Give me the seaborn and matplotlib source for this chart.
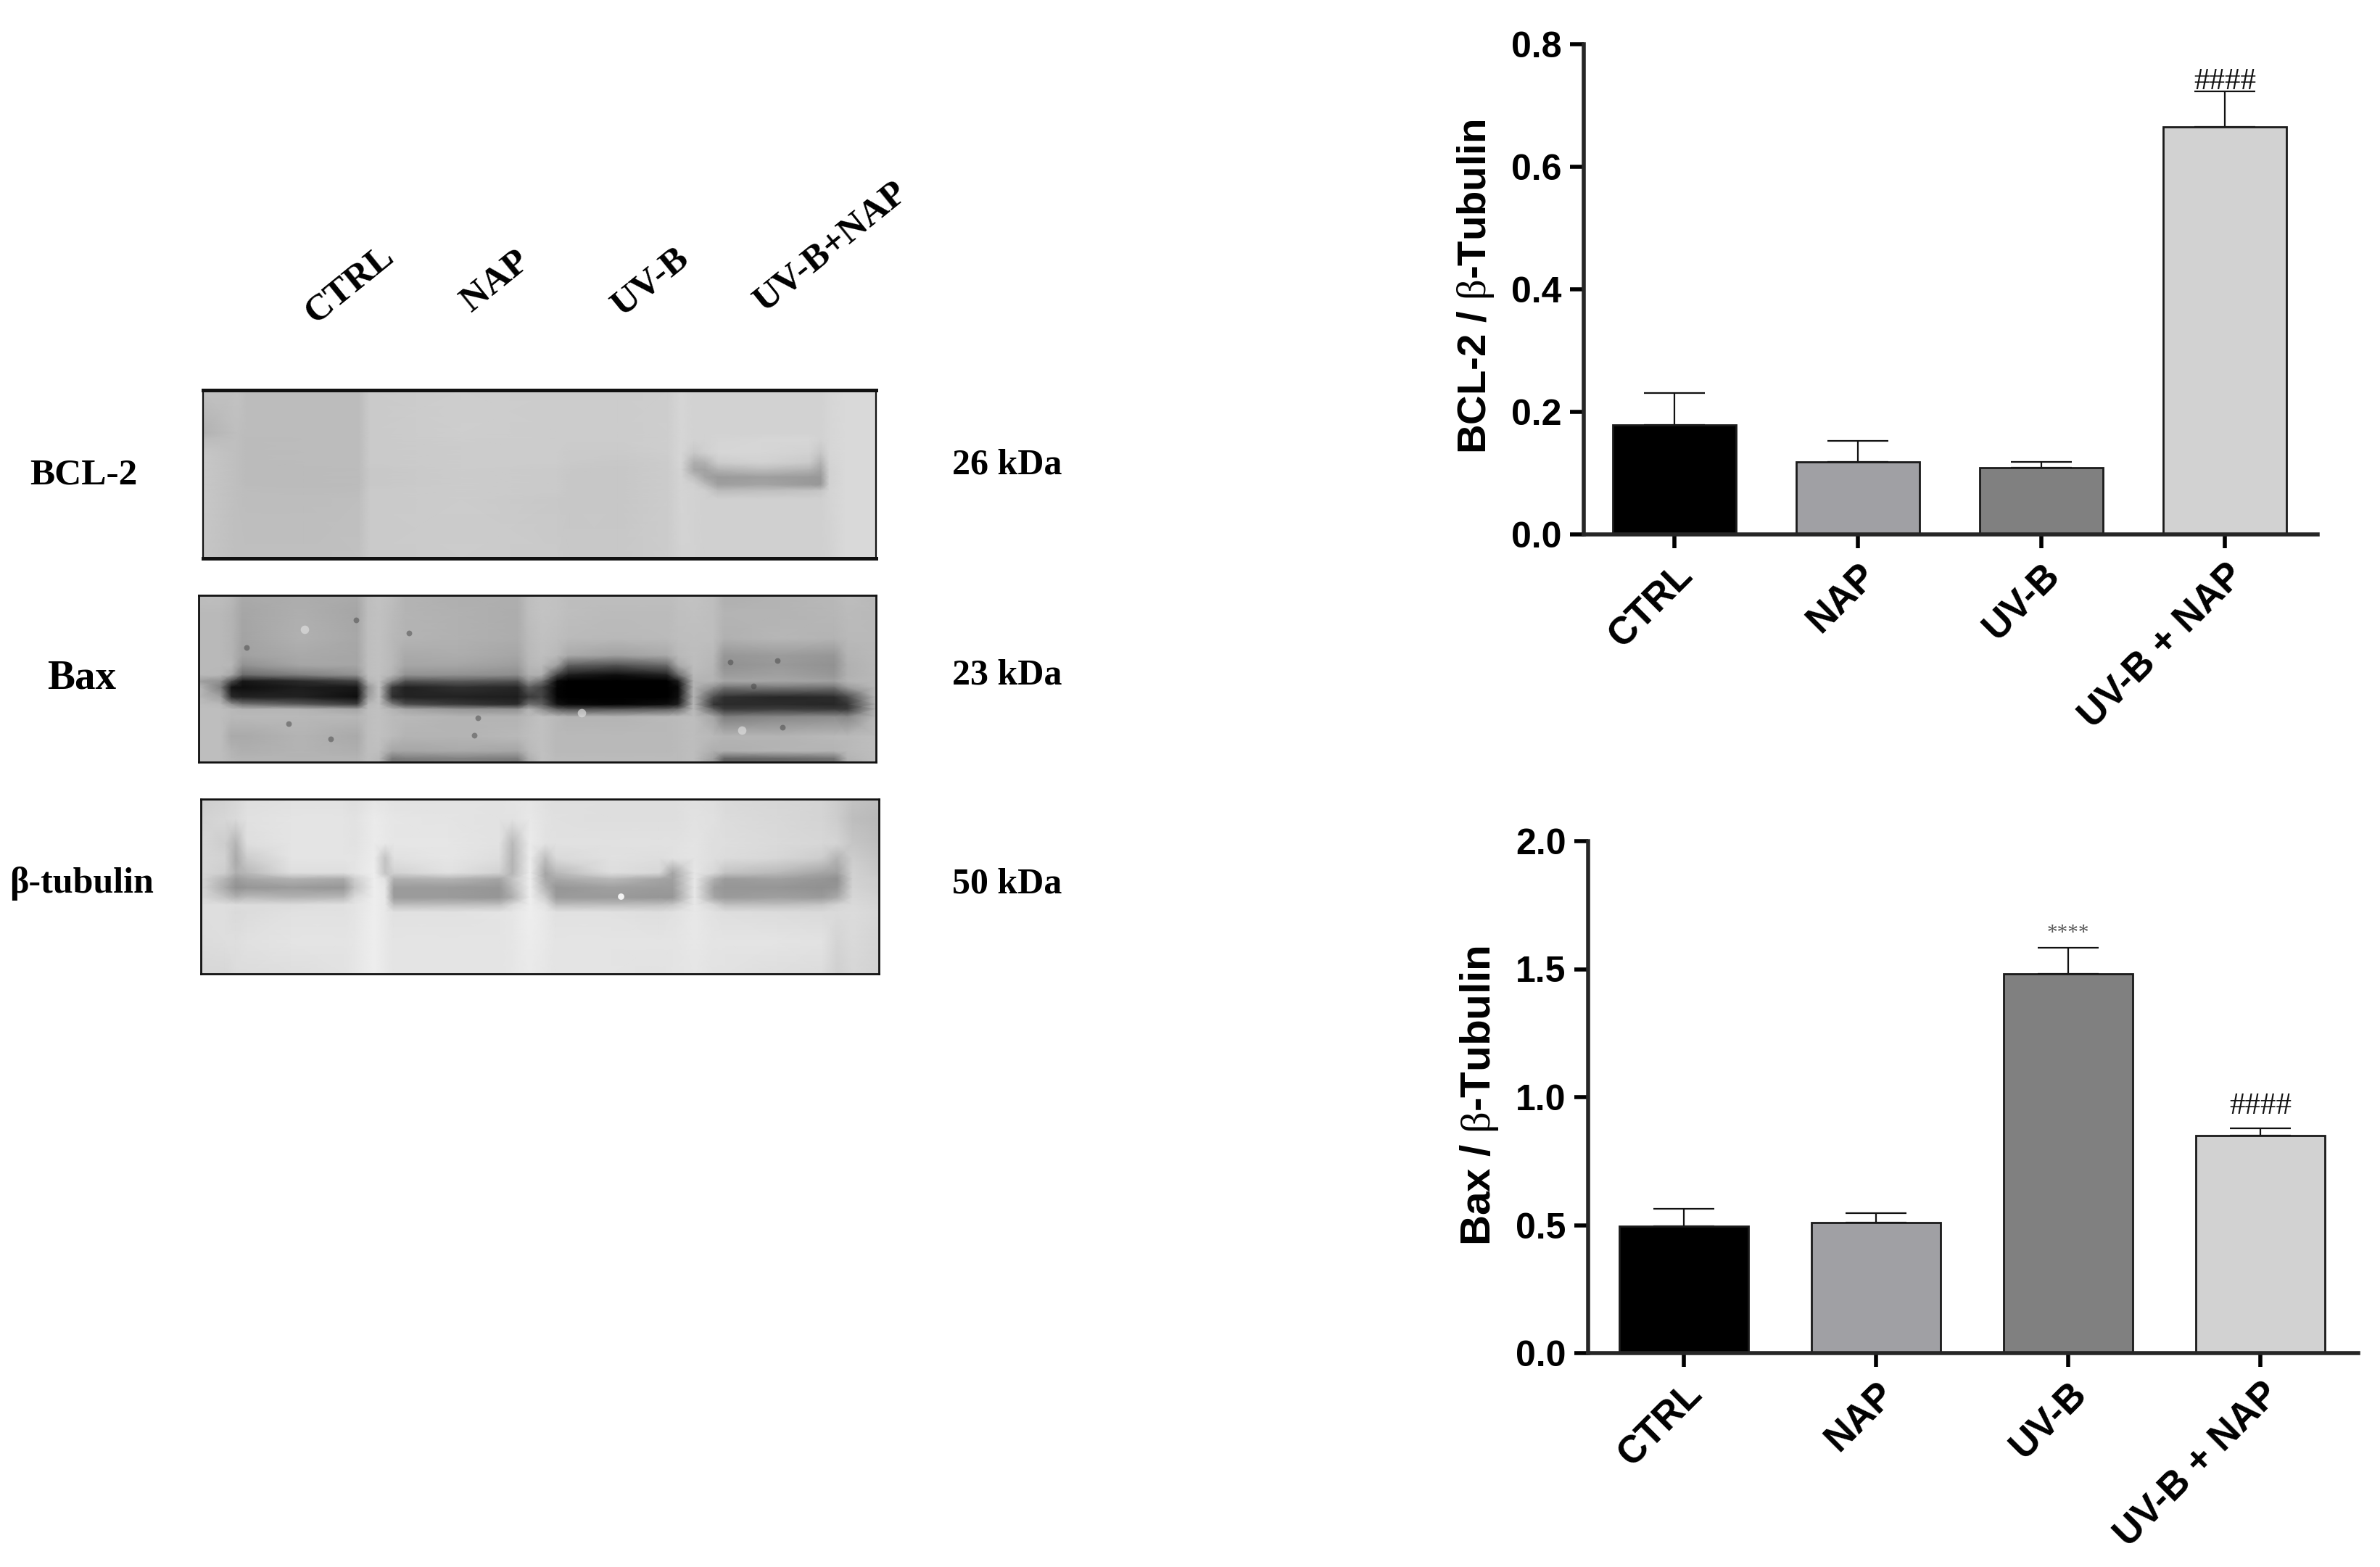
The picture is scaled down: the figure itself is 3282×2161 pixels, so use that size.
import numpy as np
import pandas as pd
import seaborn as sns
import matplotlib.pyplot as plt
from matplotlib.transforms import ScaledTranslation

FIG_W, FIG_H = 3282, 2161

groups = ['CTRL', 'NAP', 'UV-B', 'UV-B + NAP']
bar_colors = ['#000000', '#A0A0A4', '#808080', '#D2D2D2']

bcl2_mean = [0.179, 0.118, 0.109, 0.665]
bcl2_err = [0.052, 0.035, 0.009, 0.058]
bcl2_marks = ['', '', '', '####']

bax_mean = [0.496, 0.510, 1.483, 0.851]
bax_err = [0.067, 0.038, 0.101, 0.028]
bax_marks = ['', '', '****', '####']

lane_labels = ['CTRL', 'NAP', 'UV-B', 'UV-B+NAP']

bcl2_x = [8, 85, 110, 240, 365, 390, 600, 820, 850, 960, 1075, 1105, 1135, 1160, 1190, 1290, 1400, 1425, 1445, 1480, 1552]
bcl2_y = [15, 190, 215, 270, 310, 340, 370, 400, 425, 460, 700]
bcl2_grey = [
    [200, 202, 195, 195, 195, 210, 214, 212, 212, 212, 214, 222, 218, 218, 218, 218, 218, 218, 222, 225, 225],
    [185, 198, 195, 195, 195, 210, 214, 212, 212, 212, 214, 222, 218, 218, 218, 218, 218, 218, 222, 225, 225],
    [195, 198, 194, 195, 195, 210, 213, 212, 212, 212, 214, 222, 218, 218, 220, 222, 222, 218, 222, 225, 225],
    [205, 198, 194, 195, 195, 210, 212, 212, 210, 210, 214, 222, 208, 216, 222, 222, 218, 205, 222, 225, 225],
    [208, 198, 194, 195, 195, 210, 212, 212, 210, 208, 212, 222, 180, 185, 212, 218, 210, 185, 220, 225, 225],
    [208, 198, 194, 194, 195, 208, 212, 210, 208, 206, 212, 220, 172, 168, 185, 195, 185, 170, 218, 225, 225],
    [208, 198, 194, 194, 195, 208, 212, 210, 206, 206, 212, 220, 198, 170, 160, 165, 160, 158, 218, 225, 225],
    [208, 198, 194, 194, 195, 208, 212, 210, 206, 206, 212, 220, 215, 195, 165, 170, 160, 158, 218, 225, 225],
    [208, 198, 196, 195, 196, 210, 212, 210, 206, 206, 212, 220, 218, 215, 195, 198, 202, 205, 220, 225, 225],
    [208, 198, 196, 196, 198, 210, 212, 208, 206, 206, 212, 220, 218, 216, 216, 216, 216, 216, 220, 225, 225],
    [205, 198, 198, 198, 200, 210, 212, 210, 208, 208, 212, 218, 218, 216, 216, 216, 216, 216, 218, 225, 225],
]

bax_x = [10, 60, 85, 110, 240, 370, 395, 420, 450, 480, 600, 735, 760, 790, 825, 850, 960, 1075, 1100, 1135, 1180, 1205, 1330, 1455, 1485, 1550]
bax_y = [25, 100, 200, 270, 310, 350, 375, 400, 440, 470, 490, 520, 600, 660, 690, 705]
bax_grey = [
    [195, 195, 190, 175, 178, 175, 195, 200, 195, 185, 180, 180, 195, 200, 198, 195, 195, 195, 198, 200, 195, 180, 185, 190, 195, 190],
    [190, 190, 185, 170, 180, 170, 195, 198, 192, 185, 182, 178, 195, 200, 198, 195, 192, 192, 196, 198, 195, 185, 185, 188, 192, 190],
    [190, 190, 185, 168, 182, 172, 195, 198, 190, 185, 182, 178, 192, 198, 195, 192, 190, 192, 195, 196, 195, 182, 188, 185, 190, 190],
    [190, 190, 185, 165, 175, 170, 195, 198, 190, 175, 178, 170, 190, 196, 190, 175, 165, 175, 190, 195, 190, 155, 160, 155, 185, 190],
    [190, 190, 188, 150, 170, 170, 195, 198, 190, 170, 170, 162, 188, 192, 165, 100, 85, 110, 175, 195, 188, 150, 158, 150, 182, 190],
    [190, 188, 170, 110, 130, 150, 195, 198, 185, 150, 150, 145, 180, 180, 70, 30, 15, 35, 110, 190, 185, 160, 165, 155, 182, 190],
    [165, 150, 80, 25, 45, 70, 185, 198, 140, 85, 95, 85, 150, 120, 10, 0, 0, 0, 30, 185, 185, 170, 170, 165, 185, 190],
    [190, 130, 20, 15, 30, 25, 150, 198, 60, 35, 50, 40, 95, 70, 5, 0, 0, 0, 10, 185, 150, 120, 125, 120, 160, 190],
    [190, 165, 45, 35, 35, 15, 160, 198, 50, 35, 35, 30, 60, 70, 5, 0, 0, 0, 15, 185, 80, 50, 40, 45, 75, 190],
    [195, 190, 150, 120, 95, 65, 190, 198, 130, 80, 60, 45, 115, 100, 20, 10, 5, 15, 30, 190, 55, 45, 45, 40, 55, 185],
    [195, 195, 190, 185, 185, 170, 195, 198, 185, 170, 155, 150, 185, 150, 100, 85, 90, 100, 115, 190, 100, 60, 65, 60, 60, 185],
    [195, 195, 190, 190, 190, 188, 195, 198, 192, 190, 185, 185, 192, 198, 190, 185, 185, 190, 192, 195, 170, 130, 140, 145, 140, 190],
    [195, 195, 175, 175, 185, 175, 195, 198, 192, 185, 185, 190, 195, 198, 190, 190, 190, 190, 192, 195, 190, 185, 185, 190, 190, 195],
    [195, 195, 185, 180, 185, 180, 195, 195, 170, 170, 175, 170, 190, 198, 190, 190, 190, 190, 192, 195, 180, 180, 185, 185, 190, 195],
    [195, 195, 188, 185, 185, 185, 195, 190, 125, 130, 135, 130, 180, 198, 192, 192, 192, 192, 192, 195, 165, 105, 110, 120, 185, 195],
    [195, 195, 190, 185, 185, 185, 195, 190, 120, 120, 130, 120, 175, 198, 192, 192, 192, 192, 192, 195, 160, 95, 100, 110, 180, 195],
]
bax_dark_x = [1218, 1325, 1272, 1338, 645, 637, 215, 368, 488, 118, 310]
bax_dark_y = [298, 290, 395, 562, 525, 597, 548, 125, 178, 238, 610]
bax_light_x = [250, 1245, 880]
bax_light_y = [165, 575, 505]

tub_x = [15, 70, 95, 120, 220, 340, 365, 410, 435, 455, 580, 695, 725, 765, 800, 825, 950, 1060, 1090, 1140, 1185, 1210, 1330, 1430, 1465, 1500, 1560]
tub_y = [20, 100, 200, 260, 320, 345, 380, 420, 450, 480, 600, 730]
tub_grey = [
    [205, 210, 215, 222, 225, 225, 222, 230, 228, 226, 226, 226, 228, 230, 225, 222, 222, 222, 222, 225, 222, 218, 215, 212, 205, 195, 190],
    [210, 215, 218, 225, 228, 228, 226, 235, 232, 230, 228, 226, 226, 232, 226, 224, 222, 222, 222, 226, 224, 220, 216, 212, 205, 190, 185],
    [215, 205, 180, 222, 228, 228, 226, 235, 232, 230, 230, 226, 185, 235, 226, 225, 225, 225, 225, 228, 222, 222, 218, 215, 212, 198, 190],
    [215, 210, 170, 205, 228, 228, 228, 236, 195, 225, 230, 222, 180, 236, 190, 218, 225, 222, 225, 228, 222, 220, 215, 205, 180, 205, 195],
    [215, 205, 175, 185, 222, 222, 228, 238, 195, 210, 225, 210, 180, 238, 165, 185, 222, 215, 165, 230, 215, 195, 185, 165, 160, 210, 200],
    [215, 180, 155, 165, 178, 170, 205, 238, 225, 175, 180, 165, 195, 238, 168, 168, 185, 165, 160, 232, 175, 155, 160, 150, 145, 210, 205],
    [215, 170, 145, 150, 155, 150, 195, 238, 230, 155, 155, 150, 185, 238, 180, 150, 160, 155, 155, 232, 158, 150, 150, 145, 150, 212, 205],
    [218, 195, 178, 188, 180, 185, 218, 238, 232, 155, 155, 150, 175, 238, 205, 155, 155, 150, 150, 232, 165, 155, 160, 155, 170, 215, 210],
    [222, 222, 220, 220, 220, 225, 228, 238, 232, 190, 192, 192, 218, 238, 225, 190, 190, 192, 198, 232, 212, 192, 192, 198, 212, 218, 212],
    [222, 222, 218, 220, 225, 225, 228, 238, 232, 225, 225, 228, 230, 238, 232, 225, 225, 222, 225, 232, 225, 222, 220, 218, 218, 220, 215],
    [220, 222, 222, 225, 228, 228, 230, 238, 232, 228, 228, 228, 230, 236, 232, 228, 228, 228, 228, 232, 228, 228, 228, 226, 212, 218, 212],
    [215, 215, 220, 220, 222, 226, 230, 238, 232, 228, 228, 228, 230, 234, 230, 228, 228, 226, 228, 230, 226, 226, 222, 220, 208, 215, 210],
]
tub_light_x = [972]
tub_light_y = [415]

sns.set_style('ticks')
plt.rcParams['font.family'] = ['Liberation Sans', 'DejaVu Sans']
plt.rcParams['mathtext.fontset'] = 'custom'
plt.rcParams['mathtext.rm'] = 'Liberation Serif'
plt.rcParams['text.color'] = 'black'
plt.rcParams['xtick.color'] = 'black'
plt.rcParams['ytick.color'] = 'black'

fig = plt.figure(figsize=(FIG_W / 100, FIG_H / 100), dpi=100, facecolor='white')


def px_axes(left, top, right, bottom):
    return fig.add_axes([left / FIG_W, 1 - bottom / FIG_H, (right - left) / FIG_W, (bottom - top) / FIG_H])


def bar_panel(box, mean, err, marks, ymax, step, ylabel, xlim, ylab_x, ylab_y, ylab_size, hash_dy):
    ax = px_axes(*box)
    df = pd.DataFrame({'group': groups, 'value': mean})
    sns.barplot(data=df, x='group', y='value', hue='group', palette=bar_colors, dodge=False, legend=False,
                width=0.67, edgecolor='#1a1a1a', linewidth=2, ax=ax, zorder=2)
    ax.errorbar(range(4), mean, yerr=[np.zeros(4), err], fmt='none', ecolor='#111111', elinewidth=1.6,
                capsize=30, capthick=1.6, zorder=1)
    for i, m in enumerate(marks):
        if m == '':
            continue
        if m[0] == '#':
            ax.annotate(m, (i, mean[i] + err[i]), xytext=(0, hash_dy), textcoords='offset points', ha='center',
                        va='bottom', fontsize=31, color='#111111', family='Liberation Serif')
        else:
            ax.annotate(m, (i, mean[i] + err[i]), xytext=(0, 5), textcoords='offset points', ha='center',
                        va='bottom', fontsize=21, color='#555555', family='Liberation Serif')
    ax.set_xlim(*xlim)
    ax.set_ylim(0, ymax)
    ax.set_yticks(np.arange(0, ymax + step / 2, step))
    ax.set_yticklabels([f'{v:.1f}' for v in np.arange(0, ymax + step / 2, step)], fontsize=36, fontweight='bold')
    ax.set_xticks(range(4))
    ax.set_xticklabels(groups, fontsize=38, fontweight='bold', rotation=45, ha='right', rotation_mode='anchor')
    shift = ScaledTranslation(-14 / 72, 0, fig.dpi_scale_trans)
    for lab in ax.get_xticklabels():
        lab.set_transform(lab.get_transform() + shift)
    ax.tick_params(axis='both', length=14, width=4, color='black', pad=8)
    ax.set_xlabel('')
    ax.set_ylabel('')
    ax.spines['top'].set_visible(False)
    ax.spines['right'].set_visible(False)
    ax.spines['left'].set_linewidth(4)
    ax.spines['bottom'].set_linewidth(4)
    fig.text(ylab_x / FIG_W, 1 - ylab_y / FIG_H, ylabel, rotation=90, ha='center', va='center',
             fontsize=ylab_size, fontweight='bold')
    return ax


bar_panel((2184, 61, 3196, 737), bcl2_mean, bcl2_err, bcl2_marks, 0.8, 0.2,
          r'BCL-2 / $\mathrm{\beta}$-Tubulin', (-0.494, 3.506), 2035, 395, 40.5, -4)
bar_panel((2190, 1160, 3252, 1866), bax_mean, bax_err, bax_marks, 2.0, 0.5,
          r'Bax / $\mathrm{\beta}$-Tubulin', (-0.498, 3.509), 2040, 1511, 42, 8)


def blot(box, xs, ys, grid, white, lw_tb=2.0, lw_lr=2.0):
    ax = px_axes(*box)
    ax.pcolormesh(xs, ys, np.array(grid), cmap='gray', vmin=0, vmax=white, shading='gouraud')
    ax.set_xlim(xs[0], xs[-1])
    ax.set_ylim(ys[-1], ys[0])
    ax.set_xticks([])
    ax.set_yticks([])
    for name, s in ax.spines.items():
        s.set_linewidth(lw_tb if name in ('top', 'bottom') else lw_lr)
        s.set_color('#111111')
    return ax


blot((280, 538, 1208, 770), bcl2_x, bcl2_y, bcl2_grey, 265, lw_tb=3.6, lw_lr=1.6)
ax_bax = blot((274, 821, 1208, 1051), bax_x, bax_y, bax_grey, 262)
ax_bax.scatter(bax_dark_x, bax_dark_y, s=32, color='#444444', alpha=0.5, linewidths=0)
ax_bax.scatter(bax_light_x, bax_light_y, s=70, color='#dddddd', alpha=0.7, linewidths=0)
ax_tub = blot((277, 1102, 1212, 1343), tub_x, tub_y, tub_grey, 255)
ax_tub.scatter(tub_light_x, tub_light_y, s=40, color='#f2f2f2', linewidths=0)


def left_text(x, y, s, size, rot=0):
    fig.text(x / FIG_W, 1 - y / FIG_H, s, ha='center', va='center', fontsize=size, fontweight='bold',
             family='Liberation Serif', rotation=rot, rotation_mode='anchor')


left_text(115, 655, 'BCL-2', 37)
left_text(113, 936, 'Bax', 41)
left_text(113, 1218, 'β-tubulin', 36)
left_text(1389, 641, '26 kDa', 36)
left_text(1389, 931, '23 kDa', 36)
left_text(1389, 1220, '50 kDa', 36)
for lab, (x, y) in zip(lane_labels, [(482, 392), (684, 388), (898, 390), (1146, 341)]):
    left_text(x, y, lab, 37, rot=39)

fig.savefig('out.png', dpi=100, facecolor='white')
